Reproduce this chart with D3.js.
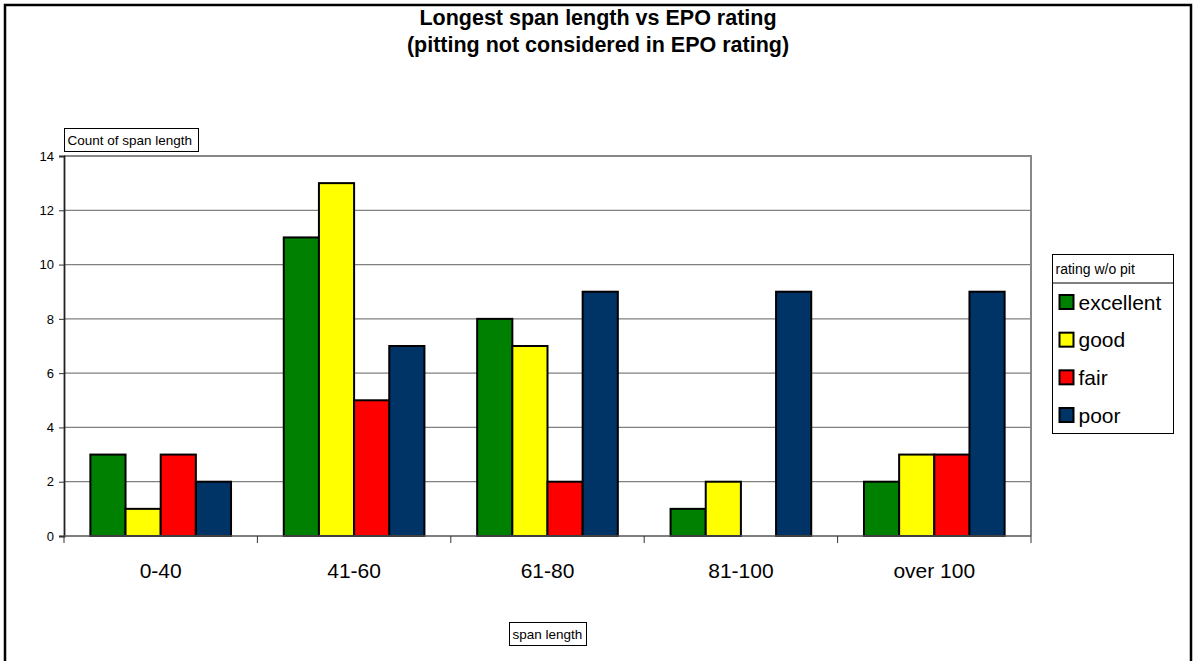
<!DOCTYPE html>
<html>
<head>
<meta charset="utf-8">
<script src="https://cdn.jsdelivr.net/npm/d3@7"></script>
<style>
  body { margin: 0; background: #fff; }
  svg { display: block; font-family: "Liberation Sans", Arial, sans-serif; }
</style>
</head>
<body>
<div id="chart"></div>
<script>
// data
var categories = ["0-40", "41-60", "61-80", "81-100", "over 100"];
var ratings = ["excellent", "good", "fair", "poor"];
var excellent = [3, 11, 8, 1, 2];
var good = [1, 13, 7, 2, 3];
var fair = [3, 5, 2, 0, 3];
var poor = [2, 7, 9, 9, 9];
var yTicks = [0, 2, 4, 6, 8, 10, 12, 14];
var colors = ["#008000", "#ffff00", "#ff0000", "#003366"];

var w = 1193, h = 661;
var pLeft = 64, pRight = 1031, pTop = 156, pBottom = 536;

var series = [excellent, good, fair, poor];

var svg = d3.select("#chart").append("svg")
    .attr("width", w)
    .attr("height", h);

// outer frame
svg.append("rect")
    .attr("x", 5).attr("y", 5)
    .attr("width", 1186).attr("height", 670)
    .attr("fill", "none")
    .attr("stroke", "#000")
    .attr("stroke-width", 2.5);

// title
svg.append("text")
    .attr("x", 598).attr("y", 25)
    .attr("text-anchor", "middle")
    .style("font-weight", "bold").style("font-size", "21.5px")
    .text("Longest span length vs EPO rating");
svg.append("text")
    .attr("x", 598).attr("y", 52)
    .attr("text-anchor", "middle")
    .style("font-weight", "bold").style("font-size", "21.5px")
    .text("(pitting not considered in EPO rating)");

var yscale = d3.scaleLinear()
    .domain([0, 14])
    .range([pBottom, pTop]);

var xscale = d3.scaleBand()
    .domain(categories)
    .range([pLeft, pRight])
    .paddingInner(0)
    .paddingOuter(0);

// bar width: 4 bars + 150% gap per category
var barW = xscale.bandwidth() / 5.5;
var sub = d3.scaleBand()
    .domain(ratings)
    .range([barW * 0.75, barW * 4.75]);

// gridlines
svg.append("g")
    .selectAll("line")
    .data(yTicks.slice(1, -1))
    .enter().append("line")
    .attr("x1", pLeft).attr("x2", pRight)
    .attr("y1", function (d) { return yscale(d); })
    .attr("y2", function (d) { return yscale(d); })
    .attr("stroke", "#808080")
    .attr("stroke-width", 1.2);

// plot area border (top, right) in gray
svg.append("path")
    .attr("d", "M" + pLeft + "," + pTop + "H" + pRight + "V" + pBottom)
    .attr("fill", "none")
    .attr("stroke", "#888")
    .attr("stroke-width", 2);

// bars
var groups = svg.selectAll("g.cat")
    .data(categories)
    .enter().append("g")
    .attr("class", "cat")
    .attr("transform", function (d) { return "translate(" + xscale(d) + ",0)"; });

groups.selectAll("rect")
    .data(function (d, i) {
        return ratings.map(function (r, j) { return { r: r, v: series[j][i], c: colors[j] }; });
    })
    .enter().append("rect")
    .filter(function (d) { return d.v > 0; })
    .attr("x", function (d) { return sub(d.r); })
    .attr("y", function (d) { return yscale(d.v); })
    .attr("width", sub.bandwidth())
    .attr("height", function (d) { return pBottom - yscale(d.v); })
    .attr("fill", function (d) { return d.c; })
    .attr("stroke", "#000")
    .attr("stroke-width", 2);

// y axis
var yaxis = d3.axisLeft(yscale)
    .tickValues(yTicks)
    .tickSize(5)
    .tickPadding(5)
    .tickFormat(d3.format("d"));

svg.append("g")
    .attr("class", "yaxis")
    .attr("transform", "translate(" + pLeft + ",0)")
    .call(yaxis)
    .call(function (g) {
        g.select(".domain").attr("stroke", "#222").attr("stroke-width", 1.8);
        g.selectAll(".tick line").attr("stroke", "#333");
        g.selectAll("text").style("font-size", "13px").attr("fill", "#000")
            .style("font-family", "Liberation Sans, Arial, sans-serif");
    });

// x axis: ticks at category boundaries
svg.append("line")
    .attr("x1", pLeft).attr("x2", pRight)
    .attr("y1", pBottom).attr("y2", pBottom)
    .attr("stroke", "#555").attr("stroke-width", 1.5);

var bounds = categories.map(function (c) { return xscale(c); }).concat([pRight]);
svg.append("g")
    .selectAll("line")
    .data(bounds)
    .enter().append("line")
    .attr("x1", function (d) { return d; })
    .attr("x2", function (d) { return d; })
    .attr("y1", pBottom).attr("y2", pBottom + 7)
    .attr("stroke", "#333").attr("stroke-width", 1);

svg.append("g")
    .selectAll("text")
    .data(categories)
    .enter().append("text")
    .attr("x", function (d) { return xscale(d) + xscale.bandwidth() / 2; })
    .attr("y", 578)
    .attr("text-anchor", "middle")
    .style("font-size", "21px")
    .text(function (d) { return d; });

// axis title boxes
function labelBox(x, y, wd, ht, txt, size) {
    svg.append("rect")
        .attr("x", x).attr("y", y)
        .attr("width", wd).attr("height", ht)
        .attr("fill", "#fff")
        .attr("stroke", "#000").attr("stroke-width", 1);
    svg.append("text")
        .attr("x", x + 3).attr("y", y + ht / 2 + size * 0.36)
        .style("font-size", size + "px")
        .text(txt);
}
labelBox(64.5, 128.5, 134, 23, "Count of span length", 13.5);
labelBox(509.5, 622.5, 77, 23, "span length", 13.5);

// legend
var legX = 1052.5, legY = 254.5, legW = 121, legH = 179;
svg.append("rect")
    .attr("x", legX).attr("y", legY)
    .attr("width", legW).attr("height", legH)
    .attr("fill", "#fff")
    .attr("stroke", "#000").attr("stroke-width", 1);
svg.append("line")
    .attr("x1", legX).attr("x2", legX + legW)
    .attr("y1", 283).attr("y2", 283)
    .attr("stroke", "#000").attr("stroke-width", 1);
svg.append("text")
    .attr("x", legX + 3).attr("y", 274)
    .style("font-size", "14px")
    .text("rating w/o pit");

var legScale = d3.scalePoint()
    .domain(ratings)
    .range([302, 415]);

var items = svg.selectAll("g.leg")
    .data(ratings)
    .enter().append("g")
    .attr("class", "leg")
    .attr("transform", function (d) { return "translate(" + (legX + 7) + "," + legScale(d) + ")"; });

items.append("rect")
    .attr("x", 0).attr("y", -7)
    .attr("width", 14).attr("height", 14)
    .attr("fill", function (d, i) { return colors[i]; })
    .attr("stroke", "#000").attr("stroke-width", 2);

items.append("text")
    .attr("x", 19).attr("y", 7.5)
    .style("font-size", "21px")
    .text(function (d) { return d; });
</script>
</body>
</html>
